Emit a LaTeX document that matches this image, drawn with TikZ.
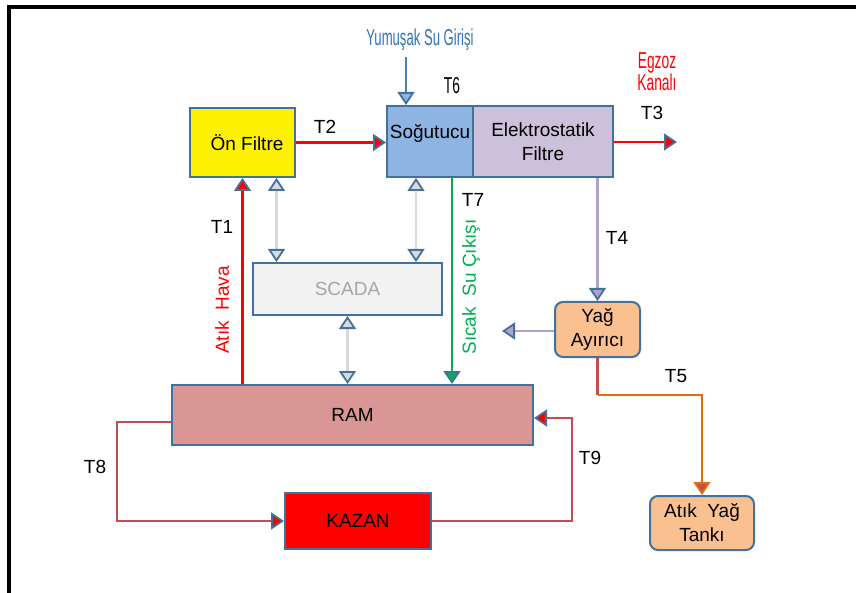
\documentclass[tikz,border=0pt]{standalone}
\usepackage{fontspec}
\setmainfont{Liberation Sans}
\usetikzlibrary{arrows.meta}
\definecolor{steel}{HTML}{41719C}
\definecolor{sogutucufill}{HTML}{8EB4E3}
\definecolor{elektrofill}{HTML}{CCC1DA}
\definecolor{scadafill}{HTML}{F2F2F2}
\definecolor{scadatext}{HTML}{A6A6A6}
\definecolor{yagfill}{HTML}{FAC090}
\definecolor{ramfill}{HTML}{D99694}
\definecolor{hatgri}{HTML}{D9D9D9}
\definecolor{hatyesil}{HTML}{00B050}
\definecolor{hatlila}{HTML}{B3A2C7}
\definecolor{hatbordo}{HTML}{C0504D}
\definecolor{hatturuncu}{HTML}{E46C0A}
\definecolor{hatmavi}{HTML}{4A7EBB}
\definecolor{sumavi}{HTML}{2E75B6}

\begin{document}
\begin{tikzpicture}[x=1pt,y=-1pt,
  font=\fontsize{19}{24}\selectfont,
  unit/.style={draw=steel, line width=2pt, rectangle, inner sep=0pt, align=center},
  hat/.style={line width=2.4pt},
  ucu/.style={-{Triangle[length=13pt,width=17pt,line width=1.8pt,color=steel,fill=#1]}},
  ciftucu/.style={{Triangle[length=13pt,width=17pt,line width=1.8pt,color=steel,fill=#1]}-{Triangle[length=13pt,width=17pt,line width=1.8pt,color=steel,fill=#1]}},
  dar/.style={font=\fontsize{23}{24}\selectfont}]
\useasboundingbox (0,0) rectangle (856,593);

% Frame (top and left edges only)
\draw[line width=4pt] (9,593) -- (9,7) -- (856,7);

% Boxes
\node[unit, fill=yellow, minimum width=105, minimum height=69] (onfiltre) at (242.5,142.5) {};
\node (onfiltretext) at (247,143) {Ön Filtre};
\node[unit, fill=sogutucufill, minimum width=86, minimum height=71] (sogutucu) at (430,141.5) {};
\node (sogutucutext) at (430,133) {Soğutucu};
\node[unit, fill=elektrofill, minimum width=140, minimum height=71] (elektro) at (543,141.5) {Elektrostatik\\Filtre};
\node[unit, fill=scadafill, minimum width=189, minimum height=52, text=scadatext] (scada) at (347.5,289) {SCADA};
\node[unit, fill=yagfill, rounded corners=8pt, minimum width=85, minimum height=55] (yag) at (597.5,329.5) {Yağ\\Ayırıcı};
\node[unit, fill=ramfill, minimum width=361, minimum height=60] (ram) at (352.5,415) {RAM};
\node[unit, fill=red, minimum width=146, minimum height=56] (kazan) at (358,521) {KAZAN};
\node[unit, fill=yagfill, rounded corners=8pt, minimum width=104, minimum height=54] (tank) at (702,523) {Atık\ \ Yağ\\Tankı};

% Soft water inlet
\coordinate (suin) at (406,57);
\node[dar, text=sumavi] (sugiris) at (420,40) {\scalebox{0.57}[1]{Yumuşak Su Girişi}};
\draw[hat, hatmavi, line width=1.6pt, ucu=sogutucufill] (suin) -- (suin |- sogutucu.north);
\node[dar] (t6) at (452,86) {\scalebox{0.6}[1]{T6}};

% Exhaust
\coordinate (egzoz) at (677,142);
\node[dar, text=red, align=center] (egzozkanal) at (657,72) {\scalebox{0.6}[1]{Egzoz}\\[-2pt]\scalebox{0.6}[1]{Kanalı}};
\draw[hat, red, ucu=red] (elektro.east |- egzoz) -- (egzoz);
\node (t3) at (652,113) {T3};

% T2
\draw[hat, red, ucu=red] (onfiltre.east) -- (onfiltre.east -| sogutucu.west);
\node (t2) at (325,127) {T2};

% T1 waste air
\draw[hat, red, ucu=red] (ram.north -| onfiltre.south) -- (onfiltre.south);
\node (t1) at (222,227) {T1};
\node[rotate=90, text=red] (atikhava) at (222,310) {Atık\ \ Hava};

% SCADA links
\draw[hat, hatgri, ciftucu=hatgri] ([xshift=34]onfiltre.south) -- ([xshift=34]onfiltre.south |- scada.north);
\draw[hat, hatgri, ciftucu=hatgri] ([xshift=-14]sogutucu.south) -- ([xshift=-14]sogutucu.south |- scada.north);
\draw[hat, hatgri, ciftucu=hatgri] (scada.south) -- (scada.south |- ram.north);

% T7 hot water outlet
\draw[hat, hatyesil, ucu=hatyesil] ([xshift=22]sogutucu.south) -- ([xshift=22]sogutucu.south |- ram.north);
\node (t7) at (473,200) {T7};
\node[rotate=90, text=hatyesil] (sicaksu) at (471,287) {Sıcak\ \ Su Çıkışı};

% T4 oil separator
\draw[hat, hatlila, ucu=hatlila] (elektro.south -| yag.north) -- (yag.north);
\node (t4) at (617,238) {T4};
\coordinate (yagsol) at (502,331);
\draw[hat, hatlila, ucu=hatlila] (yag.west |- yagsol) -- (yagsol);

% T5 waste oil
\coordinate (kirilma) at (597.5,395);
\draw[hat, hatbordo] (yag.south) -- (kirilma);
\draw[hat, hatturuncu, -{Triangle[length=13pt,width=17pt,line width=1.8pt,color=hatturuncu,fill=hatbordo]}] (kirilma) -- (kirilma -| tank.north) -- (tank.north);
\node (t5) at (676,376) {T5};

% T8 / T9 boiler loop
\draw[hat, hatbordo, ucu=red] ([yshift=-7]ram.west) -- ++(-54,0) |- (kazan.west);
\node (t8) at (95,467) {T8};
\draw[hat, hatbordo, ucu=red] (kazan.east) -- ++(140,0) |- ([yshift=-3]ram.east);
\node (t9) at (590,458) {T9};

\end{tikzpicture}
\end{document}
